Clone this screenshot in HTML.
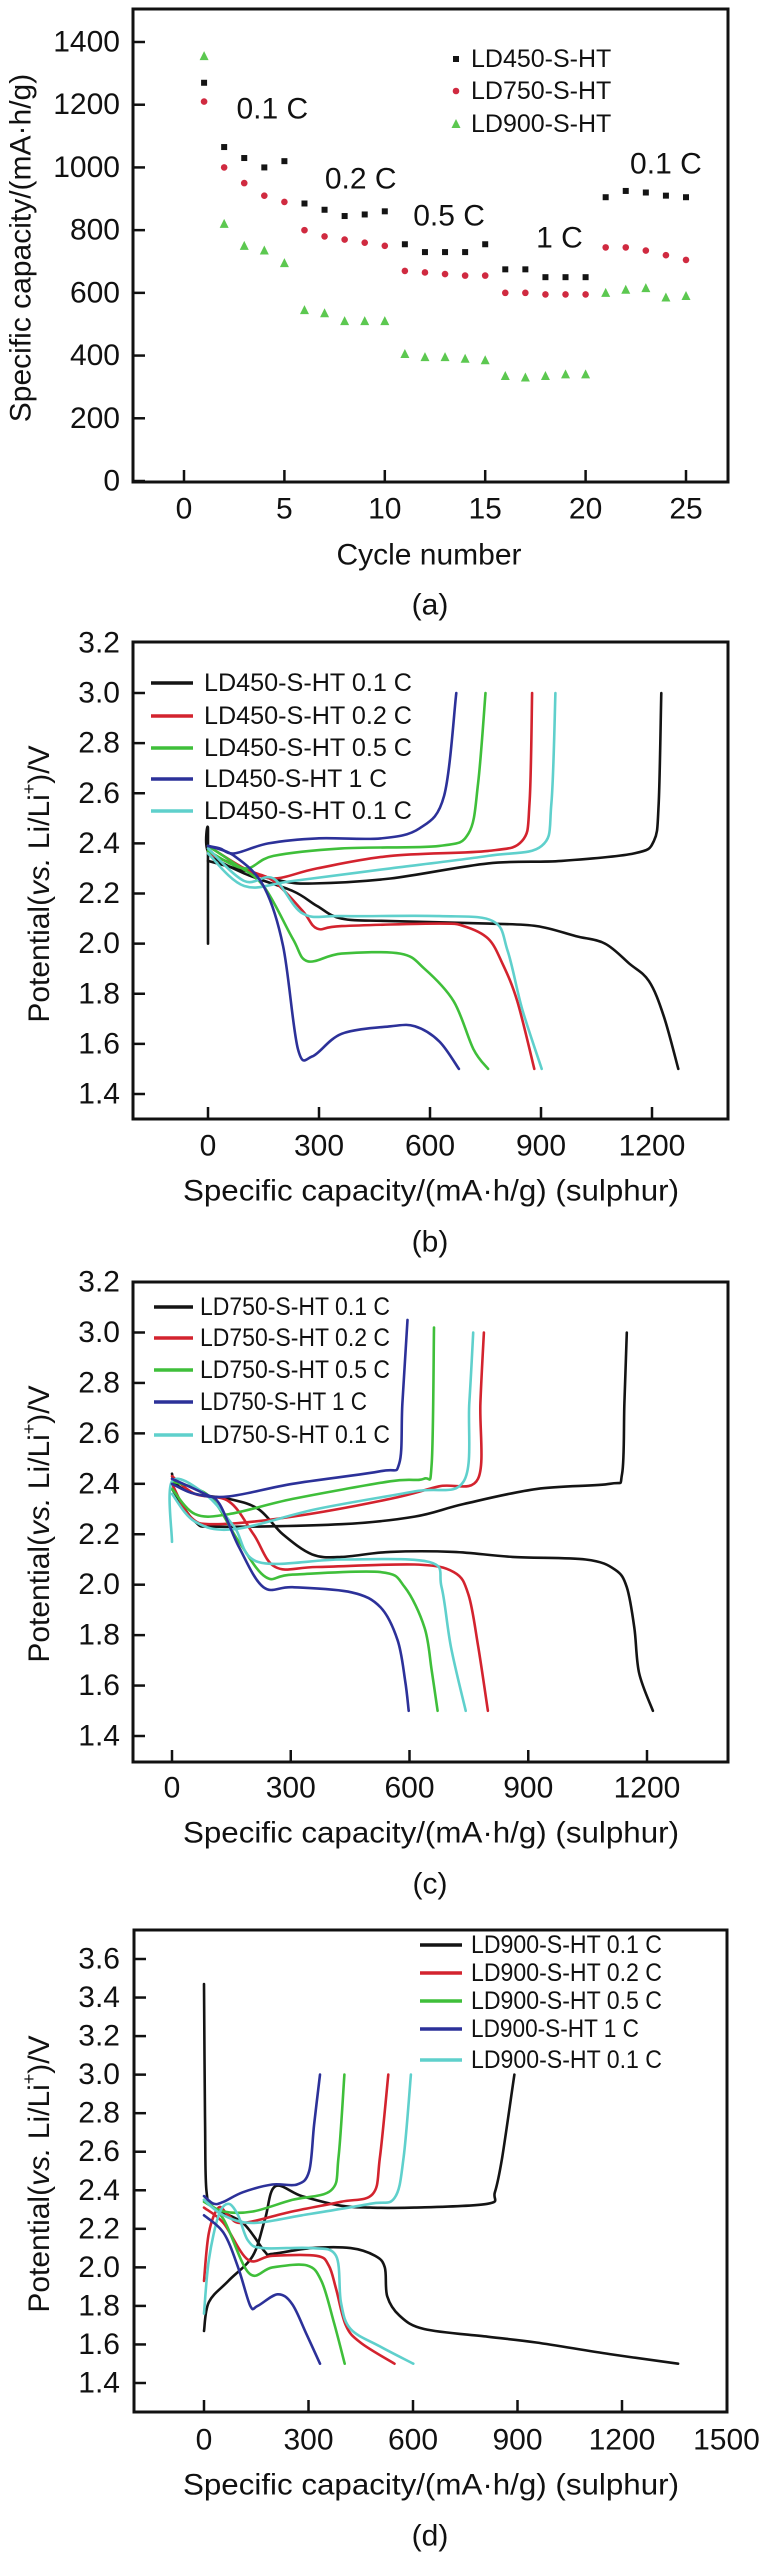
<!DOCTYPE html>
<html><head><meta charset="utf-8"><style>
html,body{margin:0;padding:0;background:#fff;}
svg{display:block;font-family:"Liberation Sans",Arial,sans-serif;}
</style></head><body>
<svg id="fig" width="760" height="2553" viewBox="0 0 760 2553" xmlns="http://www.w3.org/2000/svg"></svg>
<script>
// ---------- Panel (a) data ----------
const cycles = [1,2,3,4,5,6,7,8,9,10,11,12,13,14,15,16,17,18,19,20,21,22,23,24,25];
const capLD450 = [1270,1065,1030,1000,1020,885,865,845,850,860,755,730,730,730,755,675,675,650,650,650,905,925,920,910,905];
const capLD750 = [1210,1000,950,910,890,800,780,770,760,750,670,665,660,655,655,600,600,595,595,595,745,745,735,720,705];
const capLD900 = [1355,820,750,735,695,545,535,510,510,510,405,395,395,390,385,335,330,335,340,340,600,610,615,585,590];
const aYTicks = [0,200,400,600,800,1000,1200,1400];
const aXTicks = [0,5,10,15,20,25];
const aRateLabels = ["0.1 C","0.2 C","0.5 C","1 C","0.1 C"];
const aRateCycle = [4.4,8.8,13.2,18.7,24.0];
const aRateValue = [1186,963,845,775,1011];

// ---------- Voltage profile ticks ----------
const vTicksBC = [1.4,1.6,1.8,2.0,2.2,2.4,2.6,2.8,3.0,3.2];
const vTicksD = [1.4,1.6,1.8,2.0,2.2,2.4,2.6,2.8,3.0,3.2,3.4,3.6];
const capTicksBC = [0,300,600,900,1200];
const capTicksD = [0,300,600,900,1200,1500];

// ---------- Panel (b) LD450 curves [capacity, voltage] ----------
const b01Dis = [[0,2.0],[0,2.45],[3,2.36],[98,2.28],[229,2.21],[295,2.15],[361,2.10],[493,2.09],[757,2.08],[889,2.07],[994,2.03],[1073,2.0],[1139,1.92],[1192,1.85],[1232,1.71],[1271,1.50]];
const b01Chg = [[0,2.33],[100,2.29],[200,2.25],[282,2.24],[493,2.26],[757,2.32],[955,2.33],[1152,2.36],[1205,2.41],[1218,2.56],[1225,3.0]];
const b02Dis = [[0,2.39],[98,2.30],[177,2.25],[256,2.13],[295,2.06],[361,2.07],[625,2.08],[691,2.07],[757,2.02],[796,1.92],[836,1.77],[882,1.50]];
const b02Chg = [[0,2.36],[98,2.30],[177,2.26],[295,2.30],[493,2.35],[757,2.37],[849,2.41],[869,2.56],[876,3.0]];
const b05Dis = [[0,2.39],[71,2.32],[150,2.23],[229,2.02],[269,1.93],[361,1.96],[520,1.96],[585,1.90],[664,1.77],[717,1.58],[757,1.50]];
const b05Chg = [[0,2.37],[98,2.30],[177,2.35],[361,2.38],[625,2.39],[704,2.44],[730,2.64],[750,3.0]];
const b1Dis = [[0,2.39],[71,2.35],[150,2.23],[203,1.99],[243,1.58],[282,1.55],[361,1.64],[493,1.67],[559,1.67],[625,1.61],[678,1.50]];
const b1Chg = [[0,2.39],[32,2.38],[71,2.36],[163,2.40],[295,2.42],[467,2.42],[572,2.46],[638,2.59],[671,3.0]];
const b01bDis = [[0,2.38],[98,2.25],[177,2.26],[256,2.12],[361,2.11],[625,2.11],[770,2.09],[810,1.97],[849,1.74],[902,1.50]];
const b01bChg = [[0,2.36],[98,2.23],[229,2.25],[493,2.30],[757,2.35],[902,2.39],[928,2.56],[939,3.0]];

// ---------- Panel (c) LD750 curves ----------
const c01Dis = [[0,2.44],[9,2.40],[58,2.36],[144,2.34],[218,2.30],[280,2.20],[354,2.12],[428,2.11],[551,2.13],[712,2.13],[860,2.11],[1045,2.10],[1119,2.06],[1149,1.99],[1168,1.83],[1180,1.65],[1215,1.50]];
const c01Chg = [[0,2.38],[58,2.25],[120,2.23],[428,2.24],[613,2.27],[737,2.32],[922,2.38],[1106,2.40],[1137,2.44],[1143,2.72],[1149,3.0]];
const c02Dis = [[0,2.43],[58,2.36],[144,2.33],[206,2.20],[261,2.07],[366,2.07],[613,2.08],[712,2.05],[749,1.96],[774,1.75],[798,1.50]];
const c02Chg = [[0,2.40],[46,2.27],[107,2.24],[305,2.27],[551,2.34],[675,2.39],[773,2.42],[779,2.72],[788,3.0]];
const c05Dis = [[0,2.41],[95,2.35],[169,2.17],[237,2.03],[305,2.04],[527,2.05],[588,1.99],[638,1.83],[656,1.66],[671,1.50]];
const c05Chg = [[0,2.38],[58,2.28],[144,2.28],[305,2.34],[551,2.41],[636,2.42],[656,2.48],[662,3.02]];
const c1Dis = [[0,2.42],[83,2.36],[120,2.32],[169,2.15],[231,1.99],[305,1.99],[453,1.97],[527,1.91],[570,1.78],[589,1.62],[598,1.50]];
const c1Chg = [[0,2.40],[58,2.36],[144,2.35],[305,2.40],[527,2.45],[574,2.48],[582,2.72],[595,3.05]];
const c01bDis = [[0,2.17],[0,2.41],[83,2.36],[157,2.23],[218,2.09],[428,2.10],[650,2.09],[681,1.99],[705,1.75],[742,1.50]];
const c01bChg = [[0,2.36],[58,2.25],[157,2.22],[366,2.30],[613,2.37],[737,2.41],[751,2.72],[761,3.0]];

// ---------- Panel (d) LD900 curves ----------
const d01Dis = [[0,3.47],[3,2.78],[7,2.40],[28,2.31],[112,2.23],[175,2.08],[196,2.07],[309,2.10],[421,2.10],[491,2.06],[519,2.0],[526,1.85],[561,1.75],[632,1.68],[814,1.64],[954,1.61],[1165,1.55],[1361,1.50]];
const d01Chg = [[0,1.67],[14,1.82],[70,1.93],[140,2.06],[175,2.25],[204,2.42],[281,2.37],[393,2.32],[477,2.31],[604,2.31],[814,2.33],[835,2.39],[856,2.57],[891,3.0]];
const d02Dis = [[0,2.31],[56,2.23],[126,2.04],[196,2.06],[323,2.06],[358,2.01],[379,1.89],[407,1.70],[449,1.61],[547,1.50]];
const d02Chg = [[0,1.93],[14,2.18],[42,2.31],[70,2.27],[112,2.23],[253,2.29],[393,2.34],[484,2.38],[505,2.57],[529,3.0]];
const d05Dis = [[0,2.35],[56,2.25],[129,1.97],[196,2.0],[295,2.01],[337,1.93],[372,1.72],[404,1.50]];
const d05Chg = [[0,2.34],[56,2.29],[140,2.29],[253,2.35],[365,2.40],[386,2.57],[403,3.0]];
const d1Dis = [[0,2.27],[56,2.18],[98,2.0],[133,1.80],[154,1.80],[211,1.86],[253,1.81],[295,1.65],[333,1.50]];
const d1Chg = [[0,2.37],[28,2.33],[56,2.34],[112,2.39],[196,2.43],[267,2.43],[302,2.50],[316,2.74],[333,3.0]];
const d01bDis = [[0,1.76],[14,2.04],[42,2.27],[70,2.33],[98,2.27],[126,2.14],[168,2.10],[309,2.10],[379,2.06],[393,1.82],[421,1.68],[505,1.59],[601,1.50]];
const d01bChg = [[0,2.35],[56,2.27],[140,2.23],[281,2.27],[477,2.33],[547,2.36],[573,2.57],[594,3.0]];

const seriesNamesB = ["LD450-S-HT 0.1 C","LD450-S-HT 0.2 C","LD450-S-HT 0.5 C","LD450-S-HT 1 C","LD450-S-HT 0.1 C"];
const seriesNamesC = ["LD750-S-HT 0.1 C","LD750-S-HT 0.2 C","LD750-S-HT 0.5 C","LD750-S-HT 1 C","LD750-S-HT 0.1 C"];
const seriesNamesD = ["LD900-S-HT 0.1 C","LD900-S-HT 0.2 C","LD900-S-HT 0.5 C","LD900-S-HT 1 C","LD900-S-HT 0.1 C"];

// ---------- drawing ----------
const NS='http://www.w3.org/2000/svg';
const svg=document.getElementById('fig');
const COLORS=['#141414','#d3232e','#3fbf3a','#2c3199','#5fd0cc'];
function mk(tag,attrs,parent){const e=document.createElementNS(NS,tag);for(const k in attrs)e.setAttribute(k,attrs[k]);(parent||svg).appendChild(e);return e;}
function txt(str,x,y,size,anchor,parent){const t=mk('text',{x:x,y:y,'font-size':size,'text-anchor':anchor||'middle','dominant-baseline':'central',fill:'#111'},parent);t.textContent=str;return t;}
function smoothPath(pts){
  if(pts.length<3)return pts.map((p,j)=>(j?'L':'M')+p[0].toFixed(1)+','+p[1].toFixed(1)).join(' ');
  let d='M'+pts[0][0].toFixed(1)+','+pts[0][1].toFixed(1);
  const t=0.5/3;
  for(let i=0;i<pts.length-1;i++){
    const p0=pts[i-1]||pts[i],p1=pts[i],p2=pts[i+1],p3=pts[i+2]||p2;
    const c1=[p1[0]+(p2[0]-p0[0])*t,p1[1]+(p2[1]-p0[1])*t];
    const c2=[p2[0]-(p3[0]-p1[0])*t,p2[1]-(p3[1]-p1[1])*t];
    d+=' C'+c1[0].toFixed(1)+','+c1[1].toFixed(1)+' '+c2[0].toFixed(1)+','+c2[1].toFixed(1)+' '+p2[0].toFixed(1)+','+p2[1].toFixed(1);
  }
  return d;
}

function frame(g,L,T,R,B){
  const r=mk('rect',{x:L,y:T,width:R-L,height:B-T,fill:'none',stroke:'#111','stroke-width':3},g);
  
  
}

// Panel (a)
(function(){
  const g=mk('g',{});
  
  
  const L=133,R=728,T=9,B=482;
  const xS=c=>184+(c-0)*(686-184)/25;
  const yS=v=>481-(v-0)*(481-42)/1400;
  frame(g,L,T,R,B);
  aYTicks.forEach(v=>{
    const l=mk('line',{x1:L,x2:L+12,y1:yS(v),y2:yS(v),stroke:'#111','stroke-width':2.5},g);
    
    
    const t=txt(String(v),120,yS(v),30,'end',g);
    
    
  });
  aXTicks.forEach(c=>{
    const l=mk('line',{x1:xS(c),x2:xS(c),y1:B,y2:B-12,stroke:'#111','stroke-width':2.5},g);
    
    
    const t=txt(String(c),xS(c),509,30,'middle',g);
    
    
  });
  const yt=txt('Specific capacity/(mA·h/g)',0,0,30,'middle',g);
  yt.setAttribute('transform','translate(21,248) rotate(-90)');
  
  
  const xt=txt('Cycle number',429,555,30,'middle',g);
  
  
  const sub=txt('(a)',430,605,30,'middle',g);
  
  
  cycles.forEach((c,i)=>{
    const s=mk('rect',{x:xS(c)-3,y:yS(capLD450[i])-3,width:6,height:6,fill:COLORS[0]},g);
    
    
    const ci=mk('circle',{cx:xS(c),cy:yS(capLD750[i]),r:3.3,fill:'#d02a40'},g);
    
    
    const x=xS(c),y=yS(capLD900[i]);
    const tr=mk('polygon',{points:`${x},${y-5} ${x-4.5},${y+4} ${x+4.5},${y+4}`,fill:'#5cc850'},g);
    
    
  });
  aRateLabels.forEach((s,i)=>{
    const t=txt(s,xS(aRateCycle[i]),yS(aRateValue[i]),30,'middle',g);
    
    
  });
  const legNames=['LD450-S-HT','LD750-S-HT','LD900-S-HT'];
  const legY=[59,91,124];
  legNames.forEach((n,i)=>{
    const lg=mk('g',{},g);
    
    
    if(i===0){const m=mk('rect',{x:453,y:legY[i]-3,width:6,height:6,fill:COLORS[0]},lg);}
    if(i===1){const m=mk('circle',{cx:456,cy:legY[i],r:3.3,fill:'#d02a40'},lg);}
    if(i===2){const m=mk('polygon',{points:`456,${legY[i]-5} 451.5,${legY[i]+4} 460.5,${legY[i]+4}`,fill:'#5cc850'},lg);}
    const t=txt(n,471,legY[i],25,'start',lg);
    
    
  });
})();

function voltagePanel(cfg){
  const g=mk('g',{});
  
  
  const xS=c=>cfg.x0+c*(cfg.x1200-cfg.x0)/1200;
  const yS=v=>cfg.yB+(v-cfg.vB)*(cfg.yT-cfg.yB)/(cfg.vT-cfg.vB);
  frame(g,cfg.L,cfg.T,cfg.R,cfg.B);
  cfg.vTicks.forEach(v=>{
    const y=yS(v);
    if(y>cfg.T+2){
      const l=mk('line',{x1:cfg.L,x2:cfg.L+12,y1:y,y2:y,stroke:'#111','stroke-width':2.5},g);
      
      
    }
    const t=txt(v.toFixed(1),120,y,30,'end',g);
    
    
  });
  cfg.cTicks.forEach(c=>{
    const x=xS(c);
    if(x<cfg.R-3){
      const l=mk('line',{x1:x,x2:x,y1:cfg.B,y2:cfg.B-12,stroke:'#111','stroke-width':2.5},g);
      
      
    }
    const t=txt(String(c),x,cfg.tickY,30,'middle',g);
    
    
  });
  const yt=txt('',0,0,30,'middle',g);
  yt.setAttribute('transform',`translate(39,${cfg.yTitleY}) rotate(-90)`);
  
  
  const t1=mk('tspan',{},yt);t1.textContent='Potential(';
  const t2=mk('tspan',{'font-style':'italic'},yt);t2.textContent='vs.';
  const t3=mk('tspan',{},yt);t3.textContent=' Li/Li';
  const t4=mk('tspan',{'font-size':18,dy:-10},yt);t4.textContent='+';
  const t5=mk('tspan',{dy:10},yt);t5.textContent=')/V';
  const xt=txt('Specific capacity/(mA·h/g) (sulphur)',431,cfg.titleY,30,'middle',g);
  xt.setAttribute('textLength','496');
  xt.setAttribute('lengthAdjust','spacingAndGlyphs');
  
  
  const sub=txt(cfg.sub,430,cfg.subY,30,'middle',g);
  
  
  const clip=mk('clipPath',{id:cfg.name+'-clip'},g);
  mk('rect',{x:cfg.L+2,y:cfg.T+2,width:cfg.R-cfg.L-4,height:cfg.B-cfg.T-4},clip);
  const cg=mk('g',{'clip-path':`url(#${cfg.name}-clip)`},g);
  
  
  const order=[0,1,2,4,3];
  order.forEach(i=>{
    const pair=cfg.curves[i];
    pair.forEach((arr,k)=>{
      const pts=arr.map(p=>[xS(p[0]),yS(p[1])]);
      const path=mk('path',{d:smoothPath(pts),fill:'none',stroke:COLORS[i],'stroke-width':2.6,'stroke-linejoin':'round','stroke-linecap':'round'},cg);
      
      
    });
  });
  cfg.names.forEach((n,i)=>{
    const y=cfg.legY[i];
    const lg=mk('g',{},g);
    
    
    const l=mk('line',{x1:cfg.legX1,x2:cfg.legX2,y1:y,y2:y,stroke:COLORS[i],'stroke-width':3.5},lg);
    
    
    const t=txt(n,cfg.legTX,y,25,'start',lg);
    const w=cfg.legW*(n.indexOf(' 1 C')>0?0.88:1);
    t.setAttribute('textLength',w.toFixed(0));
    t.setAttribute('lengthAdjust','spacingAndGlyphs');
    
    
  });
}

voltagePanel({name:'panel-b-ld450-profiles',L:133,R:728,T:642,B:1119,x0:208,x1200:652,vT:3.0,yT:693,vB:1.4,yB:1094,
  vTicks:vTicksBC,cTicks:capTicksBC,tickY:1146,titleY:1191,sub:'(b)',subY:1242,yTitleY:884,
  curves:[[b01Dis,b01Chg],[b02Dis,b02Chg],[b05Dis,b05Chg],[b1Dis,b1Chg],[b01bDis,b01bChg]],
  names:seriesNamesB,legY:[683,716,748,779,811],legX1:151,legX2:193,legTX:204,legW:208});

voltagePanel({name:'panel-c-ld750-profiles',L:133,R:728,T:1282,B:1762,x0:172,x1200:647,vT:3.0,yT:1332.5,vB:1.4,yB:1736,
  vTicks:vTicksBC,cTicks:capTicksBC,tickY:1788,titleY:1833,sub:'(c)',subY:1884,yTitleY:1524,
  curves:[[c01Dis,c01Chg],[c02Dis,c02Chg],[c05Dis,c05Chg],[c1Dis,c1Chg],[c01bDis,c01bChg]],
  names:seriesNamesC,legY:[1307,1338,1370,1402,1435],legX1:154,legX2:193,legTX:200,legW:190});

voltagePanel({name:'panel-d-ld900-profiles',L:134,R:727,T:1930,B:2412,x0:204,x1200:622,vT:3.6,yT:1959,vB:1.4,yB:2383,
  vTicks:vTicksD,cTicks:capTicksD,tickY:2440,titleY:2485,sub:'(d)',subY:2536,yTitleY:2174,
  curves:[[d01Dis,d01Chg],[d02Dis,d02Chg],[d05Dis,d05Chg],[d1Dis,d1Chg],[d01bDis,d01bChg]],
  names:seriesNamesD,legY:[1945,1973,2001,2029,2060],legX1:420,legX2:462,legTX:471,legW:191});
</script>
</body></html>
